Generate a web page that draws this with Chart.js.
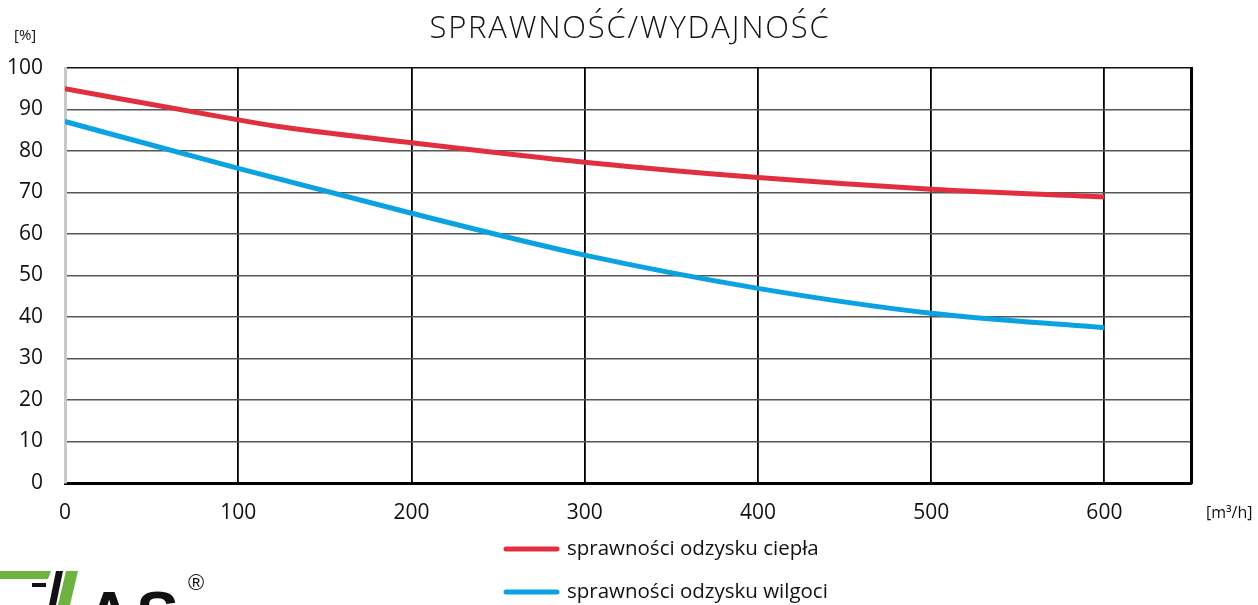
<!DOCTYPE html>
<html>
<head>
<meta charset="utf-8">
<title>Sprawność / wydajność</title>
<script src="https://cdn.jsdelivr.net/npm/chart.js@4/dist/chart.umd.min.js"></script>
<style>
  html, body { margin: 0; padding: 0; background: #fff; }
  #wrap { width: 1258px; height: 605px; }
</style>
</head>
<body>
<div id="wrap"><canvas id="effChart" width="1258" height="605"></canvas></div>
<script>
// Air flow [m3/h] vs efficiency [%]
const heatX = [0, 100, 120, 200, 300, 400, 500, 600];
const heatY = [95, 87.5, 86.1, 82, 77.3, 73.6, 70.8, 68.9];
const moistX = [0, 100, 200, 300, 400, 500, 600];
const moistY = [87.1, 75.8, 65, 54.9, 46.9, 40.9, 37.4];

const xTicks = [0, 100, 200, 300, 400, 500, 600];
const yTicks = [0, 10, 20, 30, 40, 50, 60, 70, 80, 90, 100];

const seriesNames = ["sprawności odzysku ciepła", "sprawności odzysku wilgoci"];
const seriesColors = ["#e0303f", "#0ba2e2"];

const FONT = "'Open Sans', sans-serif";

const toPoints = (xs, ys) => xs.map((x, i) => ({ x: x, y: ys[i] }));

// title, units, legend and logo drawn straight on the canvas
const decorations = {
  id: "decorations",
  afterDraw(chart) {
    const ctx = chart.ctx;
    ctx.save();

    ctx.fillStyle = "#111";
    ctx.font = "300 31px " + FONT;
    ctx.letterSpacing = "1.8px";
    ctx.textAlign = "center";
    ctx.textBaseline = "alphabetic";
    ctx.fillText("SPRAWNOŚĆ/WYDAJNOŚĆ", 630, 38);
    ctx.letterSpacing = "0px";

    ctx.font = "15px " + FONT;
    ctx.textAlign = "left";
    ctx.fillText("[%]", 14, 40);
    ctx.font = "16px " + FONT;
    ctx.fillText("[m³/h]", 1206, 518);

    // legend
    ctx.lineCap = "round";
    ctx.lineWidth = 5;
    ctx.font = "20.5px " + FONT;
    ctx.textBaseline = "middle";
    seriesNames.forEach((name, i) => {
      const y = 549 + i * 43;
      ctx.strokeStyle = seriesColors[i];
      ctx.beginPath();
      ctx.moveTo(506, y);
      ctx.lineTo(557, y);
      ctx.stroke();
      ctx.fillStyle = "#111";
      ctx.fillText(name, 567, y);
    });

    // logo (cut by the bottom edge)
    ctx.lineCap = "butt";
    ctx.fillStyle = "#6db33f";
    ctx.beginPath();
    ctx.moveTo(0, 571); ctx.lineTo(51, 571); ctx.lineTo(48, 579); ctx.lineTo(0, 579);
    ctx.closePath(); ctx.fill();
    ctx.beginPath();
    ctx.moveTo(66, 571); ctx.lineTo(78, 571); ctx.lineTo(70, 605); ctx.lineTo(58, 605);
    ctx.closePath(); ctx.fill();
    ctx.fillStyle = "#111";
    ctx.fillRect(32, 583, 14, 4);
    ctx.beginPath();
    ctx.moveTo(56, 571); ctx.lineTo(63, 571); ctx.lineTo(56, 605); ctx.lineTo(49, 605);
    ctx.closePath(); ctx.fill();
    ctx.font = "bold 64px 'Liberation Sans', sans-serif";
    ctx.textBaseline = "alphabetic";
    ctx.letterSpacing = "4px";
    ctx.fillText("AS", 86, 637);
    ctx.letterSpacing = "0px";
    ctx.font = "22px 'Liberation Sans', sans-serif";
    ctx.fillText("®", 188, 590);

    ctx.restore();
  }
};

new Chart(document.getElementById("effChart"), {
  type: "line",
  data: {
    datasets: [
      {
        label: seriesNames[0],
        data: toPoints(heatX, heatY),
        borderColor: seriesColors[0],
        borderWidth: 5,
        pointRadius: 0,
        cubicInterpolationMode: "monotone"
      },
      {
        label: seriesNames[1],
        data: toPoints(moistX, moistY),
        borderColor: seriesColors[1],
        borderWidth: 5,
        pointRadius: 0,
        cubicInterpolationMode: "monotone"
      }
    ]
  },
  options: {
    responsive: false,
    animation: false,
    layout: { padding: { top: 68, right: 67, left: 0, bottom: 0 } },
    plugins: {
      legend: { display: false },
      tooltip: { enabled: false }
    },
    scales: {
      x: {
        type: "linear",
        min: 0,
        max: 650,
        afterBuildTicks: s => { s.ticks = xTicks.map(v => ({ value: v })); },
        afterFit: s => { s.height = 122; },
        ticks: { color: "#111", font: { family: FONT, size: 21 }, padding: 17 },
        grid: {
          drawTicks: false,
          color: c => c.tick && c.tick.value === 0 ? "rgba(0,0,0,0)" : "#000",
          lineWidth: 1.8
        },
        border: { color: "#000", width: 3 }
      },
      y: {
        min: 0,
        max: 100,
        afterBuildTicks: s => { s.ticks = yTicks.map(v => ({ value: v })); },
        afterFit: s => { s.width = 65; },
        ticks: { color: "#111", font: { family: FONT, size: 21 }, padding: 22 },
        grid: {
          drawTicks: false,
          color: c => c.tick && c.tick.value === 100 ? "#111" : "#555",
          lineWidth: 1.6
        },
        border: { color: "#c8c8c8", width: 3 }
      },
      yRight: {
        position: "right",
        min: 0,
        max: 100,
        afterFit: s => { s.width = 0; },
        ticks: { display: false },
        grid: { display: false, drawTicks: false },
        border: { color: "#000", width: 3 }
      }
    }
  },
  plugins: [decorations]
});
</script>
</body>
</html>
